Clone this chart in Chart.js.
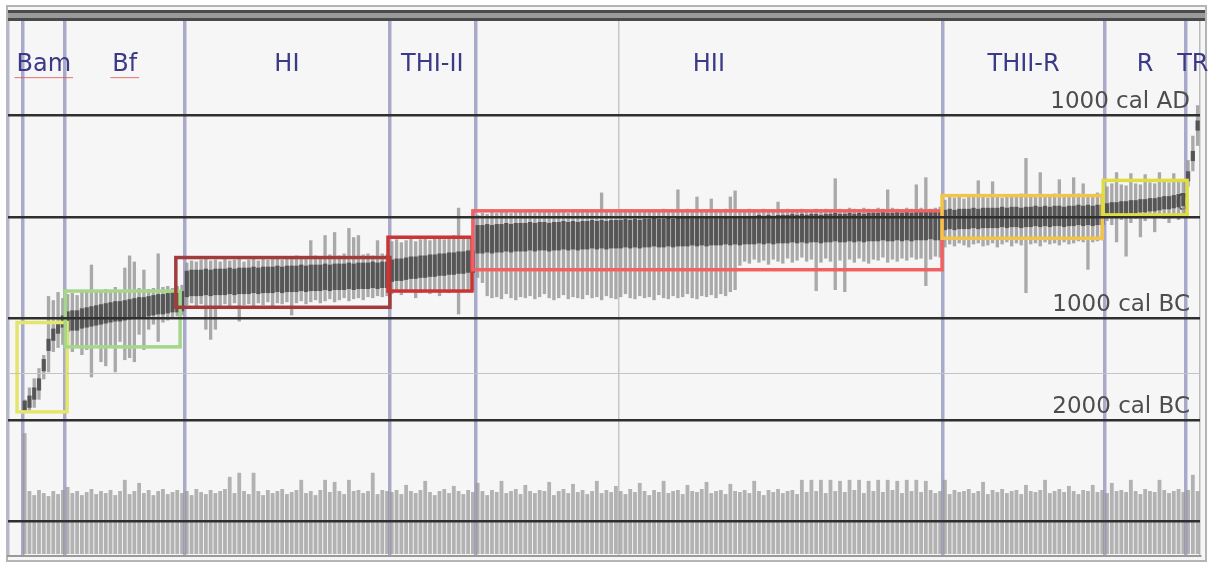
<!DOCTYPE html>
<html>
<head>
<meta charset="utf-8">
<script src="https://cdn.jsdelivr.net/npm/chart.js@4.4.0/dist/chart.umd.min.js"></script>
<style>
  html, body { margin: 0; padding: 0; background: #fff; }
  #frame { position: absolute; left: 6px; top: 5px; width: 1197px; height: 553px; border: 2px solid #b4b4b4; background: #f6f6f6; }
  #topbar { position: absolute; left: 8px; top: 10px; width: 1197px; height: 5px; border-top: 3px solid #4a4a4a; border-bottom: 3px solid #4a4a4a; background: #9a9a9a; }
  canvas { position: absolute; left: 0; top: 0; }
</style>
</head>
<body>
<div id="frame"></div>
<div id="topbar"></div>
<canvas id="seqChart" width="1209" height="564"></canvas>
<script>
/***** phases (leading empty slot, then the phases in order) *****/
const phaseNames = ['', 'Bam', 'Bf', 'HI', 'THI-II', 'HII', 'THII-R', 'R', 'TR'];
const phaseSizes = [3, 9, 25, 43, 18, 98, 34, 17, 3];
const phaseCore  = [0, 60, 100, 130, 110, 140, 100, 65, 50];   // half width of the dark 68% core, years
const underlined = ['Bam', 'Bf'];

/***** dates, cal years (BC negative) *****/
const mid = [
  null, null, null,
  -1870,-1820,-1740,-1650,-1460,-1260,-1160,-1090,-1030,
  -1030,-1020,-1020,-1000,-990,-980,-970,-960,-950,-940,-930,-930,-920,-910,-900,-890,-890,-880,-870,-860,-860,-850,-840,-840,-830,
  -660,-650,-650,-650,-640,-650,-640,-640,-640,-630,-640,-630,-630,-630,-620,-630,-620,-620,-620,-610,
  -620,-610,-610,-610,-600,-610,-600,-600,-600,-590,-600,-590,-590,-590,-580,-590,-580,-580,-580,-570,-580,-570,-570,
  -530,-520,-520,-510,-500,-500,-490,-490,-480,-480,-470,-470,-460,-460,-450,-450,-440,-440,
  -220,-220,-210,-220,-210,-210,-200,-210,-200,-200,-200,-190,-200,-190,-190,-200,-190,-190,-180,-190,
  -180,-190,-180,-180,-170,-180,-170,-180,-170,-170,-170,-160,-170,-160,-170,-160,-160,-150,-160,-160,
  -150,-160,-150,-150,-150,-140,-150,-140,-150,-140,-140,-140,-130,-140,-130,-140,-130,-130,-130,-120,
  -130,-120,-130,-120,-120,-120,-110,-120,-110,-120,-110,-110,-120,-110,-110,-100,-110,-110,-100,-110,
  -100,-110,-100,-100,-100,-90,-100,-100,-90,-100,-90,-100,-90,-90,-90,-80,-90,-90,
  -30,-20,-30,-20,-20,-20,-10,-20,-10,-10,-10,-10,0,-10,0,0,-10,0,0,10,0,10,0,10,10,0,10,10,20,10,20,10,20,20,
  70,80,80,90,90,100,100,110,110,120,120,130,140,140,150,160,170,
  400,600,900
];
const hi = [
  null, null, null,
  -1800,-1680,-1590,-1490,-1360,-780,-820,-740,-800,
  -760,-750,-770,-740,-730,-470,-740,-720,-710,-730,-690,-720,-500,-380,-440,-700,-520,-710,-700,-360,-690,-680,-700,-680,-670,
  -450,-430,-440,-420,-410,-430,-420,-440,-410,-430,-420,-400,-440,-420,-410,-430,-400,-420,-410,-390,
  -420,-400,-410,-380,-400,-390,-230,-380,-400,-180,-370,-150,-380,-360,-110,-200,-180,-370,-360,-380,-230,-360,-370,
  -240,-220,-250,-230,-210,-240,-220,-200,-230,-210,-190,-220,-200,-180,90,-200,-190,-210,
  20,40,30,50,40,60,50,40,60,50,60,50,40,60,50,70,60,50,60,40,
  60,50,70,60,50,60,240,60,50,70,60,70,50,60,70,60,50,70,60,80,
  60,70,270,60,80,70,200,60,70,180,70,60,80,200,260,70,60,80,70,60,
  80,70,60,150,70,80,60,70,80,70,60,80,70,80,70,380,80,70,90,80,
  70,90,80,70,90,80,270,90,80,70,90,80,320,90,390,80,90,100,
  170,200,190,210,180,200,220,360,200,190,350,210,190,220,200,210,230,580,210,200,440,220,210,230,370,220,210,390,230,330,220,210,240,230,
  300,330,440,320,310,430,330,320,420,340,330,440,350,340,430,350,360,
  560,800,1100
];
const lo = [
  null, null, null,
  -1920,-1920,-1880,-1800,-1600,-1530,-1330,-1290,-1260,
  -1260,-1330,-1290,-1360,-1310,-1580,-1260,-1430,-1470,-1290,-1530,-1230,-1410,-1390,-1430,-1160,-1310,-1110,-1060,-1230,-1040,-1020,-1000,-980,-970,
  -870,-850,-890,-860,-1110,-1210,-1110,-880,-860,-900,-850,-1030,-870,-860,-890,-850,-870,-840,-880,-850,
  -860,-840,-970,-850,-830,-860,-840,-820,-850,-830,-810,-840,-820,-800,-830,-810,-800,-820,-790,-800,-780,-790,-780,
  -760,-740,-770,-740,-730,-800,-750,-730,-760,-740,-780,-730,-750,-720,-960,-740,-720,-730,
  -600,-650,-780,-800,-790,-810,-760,-800,-820,-790,-800,-780,-810,-790,-760,-800,-820,-800,-770,-810,
  -790,-800,-810,-770,-800,-790,-820,-780,-800,-810,-790,-760,-800,-810,-780,-800,-790,-820,-770,-800,
  -810,-780,-800,-790,-760,-800,-810,-780,-790,-770,-800,-760,-780,-740,-720,-480,-440,-460,-420,-450,
  -430,-470,-420,-440,-460,-410,-450,-430,-400,-440,-420,-730,-450,-410,-440,-720,-430,-740,-420,-450,
  -410,-440,-460,-420,-430,-400,-450,-420,-440,-410,-430,-400,-420,-410,-680,-420,-390,-400,
  -300,-270,-290,-260,-280,-300,-270,-260,-290,-280,-260,-300,-270,-250,-290,-260,-280,-750,-270,-260,-290,-250,-270,-260,-280,-250,-270,-260,-240,-250,-520,-250,-240,-230,
  -40,-80,-250,-30,-390,-60,-20,-200,-40,-10,-150,0,-20,-60,10,-30,20,
  300,450,700
];

/***** lower band: top of each trace, base of the band *****/
const bandBase = -3320;
const bandTop = [
  null,null,null,-2130,-2700,-2740,-2690,-2720,-2750,-2700,
  -2730,-2690,-2660,-2720,-2700,-2740,-2710,-2680,-2730,-2700,
  -2720,-2690,-2740,-2700,-2590,-2730,-2700,-2620,-2720,-2690,
  -2740,-2700,-2680,-2730,-2710,-2690,-2720,-2700,-2740,-2680,
  -2710,-2730,-2690,-2720,-2700,-2680,-2560,-2720,-2520,-2700,
  -2730,-2520,-2700,-2740,-2690,-2720,-2700,-2680,-2730,-2710,
  -2690,-2590,-2720,-2700,-2740,-2690,-2590,-2710,-2610,-2700,
  -2730,-2590,-2700,-2690,-2720,-2700,-2520,-2730,-2690,-2700,
  -2710,-2690,-2730,-2640,-2700,-2720,-2690,-2600,-2710,-2740,
  -2700,-2680,-2720,-2650,-2700,-2730,-2690,-2710,-2620,-2700,
  -2740,-2690,-2710,-2600,-2720,-2700,-2680,-2730,-2640,-2700,
  -2720,-2690,-2700,-2610,-2740,-2700,-2680,-2720,-2630,-2710,
  -2690,-2730,-2700,-2600,-2720,-2690,-2710,-2650,-2700,-2730,
  -2680,-2710,-2620,-2700,-2740,-2690,-2710,-2600,-2720,-2700,
  -2690,-2730,-2640,-2700,-2710,-2680,-2610,-2720,-2700,-2690,
  -2730,-2630,-2700,-2710,-2690,-2720,-2600,-2700,-2740,-2690,
  -2710,-2680,-2720,-2700,-2690,-2730,-2590,-2710,-2590,-2700,
  -2590,-2720,-2590,-2700,-2600,-2710,-2590,-2690,-2590,-2720,
  -2600,-2700,-2590,-2710,-2590,-2690,-2600,-2720,-2590,-2700,
  -2590,-2710,-2600,-2690,-2720,-2700,-2590,-2730,-2690,-2710,
  -2700,-2680,-2720,-2700,-2610,-2730,-2690,-2710,-2680,-2720,
  -2700,-2690,-2730,-2640,-2700,-2710,-2690,-2590,-2720,-2700,
  -2680,-2710,-2650,-2700,-2730,-2690,-2700,-2640,-2710,-2690,
  -2720,-2620,-2700,-2690,-2710,-2590,-2700,-2730,-2680,-2700,
  -2710,-2590,-2690,-2720,-2700,-2680,-2710,-2690,-2540,-2700
];

/***** year axis *****/
const yearTicks  = [-3000, -2000, -1540, -1000, 0, 1000];
const yearLabels = ['', '2000 cal BC', '', '1000 cal BC', '0', '1000 cal AD'];
const dottedYear = -1540;
const phaseLabelYear = 1500;

/***** model boxes (category positions, years) *****/
const boxFrom   = [1.4, 11.5, 34.7, 79.2, 97.0, 195.4, 229.2];
const boxTo     = [11.9, 35.6, 79.6, 96.8, 195.4, 229.0, 246.8];
const boxTop    = [-1040, -730, -400, -200, 60, 210, 360];
const boxBottom = [-1920, -1280, -890, -730, -520, -210, 20];
const boxColors = ['#e4e66c', '#a6d68a', '#a23c3c', '#cc3434', '#f06262', '#f2c44c', '#dede40'];

/******** helpers built from the arrays ********/
const bounds = [];
phaseSizes.reduce((acc, n) => { acc += n; bounds.push(acc); return acc; }, 0);
const coreHalf = phaseSizes.flatMap((n, p) => Array(n).fill(phaseCore[p]));
const labels = mid.map((_, i) => String(i));
const middleLine = 128;

const phasePlugin = {
  id: 'phases',
  afterDatasetsDraw(chart) {
    const { ctx, scales: { x, y } } = chart;
    ctx.save();
    boxColors.forEach((c, i) => {
      const x0 = x.getPixelForValue(boxFrom[i]), x1 = x.getPixelForValue(boxTo[i]);
      const y0 = y.getPixelForValue(boxTop[i]), y1 = y.getPixelForValue(boxBottom[i]);
      ctx.strokeStyle = c;
      ctx.lineWidth = 3.5;
      ctx.strokeRect(x0, y0, x1 - x0, y1 - y0);
    });
    ctx.font = '24px "DejaVu Sans"';
    ctx.fillStyle = '#3b3a86';
    ctx.textAlign = 'center';
    ctx.textBaseline = 'middle';
    const ly = y.getPixelForValue(phaseLabelYear);
    let start = 0;
    phaseNames.forEach((name, i) => {
      const end = start + phaseSizes[i];
      if (name) {
        const cx = (x.getPixelForValue(start - 0.5) + x.getPixelForValue(end - 0.5)) / 2;
        ctx.fillText(name, cx, ly);
        if (underlined.includes(name)) {
          const w = ctx.measureText(name).width;
          ctx.strokeStyle = 'rgba(225,80,80,0.8)';
          ctx.lineWidth = 1;
          ctx.beginPath();
          ctx.moveTo(cx - w / 2 - 2, ly + 13);
          ctx.lineTo(cx + w / 2 + 2, ly + 13);
          ctx.stroke();
        }
      }
      start = end;
    });
    ctx.restore();
  }
};

new Chart(document.getElementById('seqChart'), {
  type: 'bar',
  data: {
    labels: labels,
    datasets: [{
      label: '68%',
      data: mid.map((m, i) => m === null ? null : [m - coreHalf[i], m + coreHalf[i]]),
      backgroundColor: 'rgba(62,62,62,0.78)',
      barPercentage: 0.9, categoryPercentage: 1, grouped: false, order: 1
    }, {
      label: '95%',
      data: lo.map((l, i) => l === null ? null : [l, hi[i]]),
      backgroundColor: 'rgba(150,150,150,0.8)',
      barPercentage: 0.7, categoryPercentage: 1, grouped: false, order: 2
    }, {
      label: 'band',
      data: bandTop.map(t => t === null ? null : [bandBase, t]),
      backgroundColor: 'rgba(150,150,150,0.7)',
      barPercentage: 0.8, categoryPercentage: 1, grouped: false, order: 3
    }]
  },
  options: {
    responsive: false,
    animation: false,
    devicePixelRatio: 1,
    layout: { padding: { left: 8, right: 9, top: 21, bottom: 8 }, autoPadding: false },
    plugins: { legend: { display: false }, tooltip: { enabled: false } },
    scales: {
      x: {
        afterFit: s => { s.height = 0; },
        ticks: { display: false },
        border: { display: true, color: '#9a9a9a', width: 2 },
        grid: {
          drawTicks: false,
          color: c => {
            if (c.index === undefined) return '#bcbcbc';
            if (c.index === 0) return '#b8b8c8';
            if (bounds.includes(c.index)) return '#a9a9ca';
            if (c.index === middleLine) return '#c6c6c6';
            return 'rgba(0,0,0,0)';
          },
          lineWidth: c => (c.index !== undefined && (c.index === 0 || bounds.includes(c.index))) ? 3.5 : 1.5
        }
      },
      y: {
        position: 'right',
        min: -3340,
        max: 1930,
        afterFit: s => { s.width = 0; },
        afterBuildTicks: s => { s.ticks = yearTicks.map(v => ({ value: v })); },
        border: { display: false },
        grid: {
          drawTicks: false,
          z: 1,
          color: c => c.tick && c.tick.value === dottedYear ? '#c4c4c4' : '#2f2f2f',
          lineWidth: c => c.tick && c.tick.value === dottedYear ? 1 : 2.5
        },
        ticks: {
          mirror: true,
          padding: -10,
          labelOffset: -13,
          color: '#4d4d4d',
          font: { family: 'DejaVu Sans', size: 23 },
          callback: (v, i) => yearLabels[i]
        }
      }
    }
  },
  plugins: [phasePlugin]
});
</script>
</body>
</html>
